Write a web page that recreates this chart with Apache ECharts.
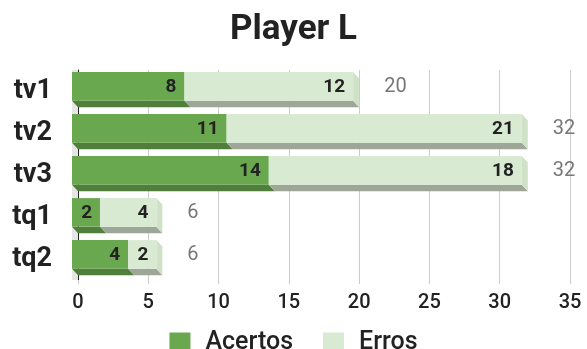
<!DOCTYPE html>
<html>
<head>
<meta charset="utf-8">
<script src="https://cdn.jsdelivr.net/npm/echarts@6/dist/echarts.min.js"></script>
<style>html,body{margin:0;padding:0;background:#fff}#c{width:587px;height:349px}</style>
</head>
<body>
<div id="c"></div>
<script>
const title = 'Player L';
const categories = ['tv1', 'tv2', 'tv3', 'tq1', 'tq2'];
const acertos = [8, 11, 14, 2, 4];
const erros = [12, 21, 18, 4, 2];
const totals = [20, 32, 32, 6, 6];
const xTicks = { min: 0, max: 35, interval: 5 };
const seriesNames = ['Acertos', 'Erros'];

const FONT = 'Roboto';
const DX = 6, DY = 6.5;
const styles = [
  { face: '#6aa84f', bottom: '#4f7f3b', side: '#5e9a46' },
  { face: '#d9ead3', bottom: '#9da697', side: '#cfe2c8' }
];

function makeRender(k) {
  return function (params, api) {
    const s = api.value(0), e = api.value(1), i = api.value(2);
    const p0 = api.coord([s, i]);
    const p1 = api.coord([e, i]);
    const band = api.size([0, 1])[1];
    const yt = p0[1] - band * 0.45;
    const h = band * 0.68;
    const yb = yt + h;
    const st = styles[k];
    const children = [];
    if (k === 0) {
      children.push({ type: 'rect', shape: { x: p0[0] - DX, y: p0[1] - band / 2, width: DX, height: band }, style: { fill: '#e6e6e6' } });
    }
    children.push({ type: 'polygon', shape: { points: [[p0[0] - DX, yb], [p1[0] - DX, yb], [p1[0], yb + DY], [p0[0], yb + DY]] }, style: { fill: st.bottom } });
    if (k === 1) {
      children.push({ type: 'polygon', shape: { points: [[p1[0] - DX, yt], [p1[0], yt + DY], [p1[0], yb + DY], [p1[0] - DX, yb]] }, style: { fill: st.side } });
    }
    children.push({ type: 'rect', shape: { x: p0[0] - DX, y: yt, width: p1[0] - p0[0], height: h }, style: { fill: st.face } });
    children.push({ type: 'text', style: { text: String(e - s), x: p1[0] - DX - 8, y: yt + h / 2 + 1, align: 'right', verticalAlign: 'middle', fontSize: 19, fontWeight: 'bold', fontFamily: FONT, fill: '#222' } });
    if (k === 1) {
      children.push({ type: 'text', style: { text: String(totals[i]), x: p1[0] + 25, y: yt + h / 2 + 1, align: 'left', verticalAlign: 'middle', fontSize: 20, fontFamily: FONT, fill: '#777' } });
    }
    return { type: 'group', children: children };
  };
}

const dataA = categories.map((c, i) => [0, acertos[i], i]);
const dataE = categories.map((c, i) => [acertos[i], acertos[i] + erros[i], i]);

const chart = echarts.init(document.getElementById('c'), null, { renderer: 'canvas' });
chart.setOption({
  animation: false,
  title: { text: title, left: 'center', top: 8, textStyle: { fontSize: 35, fontWeight: 'bold', fontFamily: FONT, color: '#222' } },
  legend: {
    top: 325, left: 'center', itemWidth: 21, itemHeight: 20, itemGap: 30, icon: 'rect',
    data: seriesNames,
    textStyle: { fontSize: 25, fontWeight: 500, fontFamily: FONT, color: '#222', padding: [0, 0, 0, 10] }
  },
  grid: { left: 78, right: 17, top: 70, bottom: 69, containLabel: false },
  xAxis: {
    type: 'value', min: xTicks.min, max: xTicks.max, interval: xTicks.interval,
    axisLine: { show: false },
    axisTick: { show: true, length: 4, lineStyle: { color: '#ccc' } },
    splitLine: { show: true, lineStyle: { color: '#ccc', width: 1 } },
    axisLabel: { fontSize: 20, fontWeight: 500, fontFamily: FONT, color: '#222', margin: 13 }
  },
  yAxis: {
    type: 'category', data: categories, inverse: true,
    axisLine: { show: true, lineStyle: { color: '#222', width: 1 } },
    axisTick: { show: false },
    axisLabel: { fontSize: 27, fontWeight: 'bold', fontFamily: FONT, color: '#222', margin: 26, padding: [0, 0, 10, 0] }
  },
  series: [
    { name: seriesNames[0], type: 'custom', renderItem: makeRender(0), encode: { x: [0, 1], y: 2 }, data: dataA, itemStyle: { color: styles[0].face } },
    { name: seriesNames[1], type: 'custom', renderItem: makeRender(1), encode: { x: [0, 1], y: 2 }, data: dataE, itemStyle: { color: styles[1].face } }
  ]
});
</script>
</body>
</html>
